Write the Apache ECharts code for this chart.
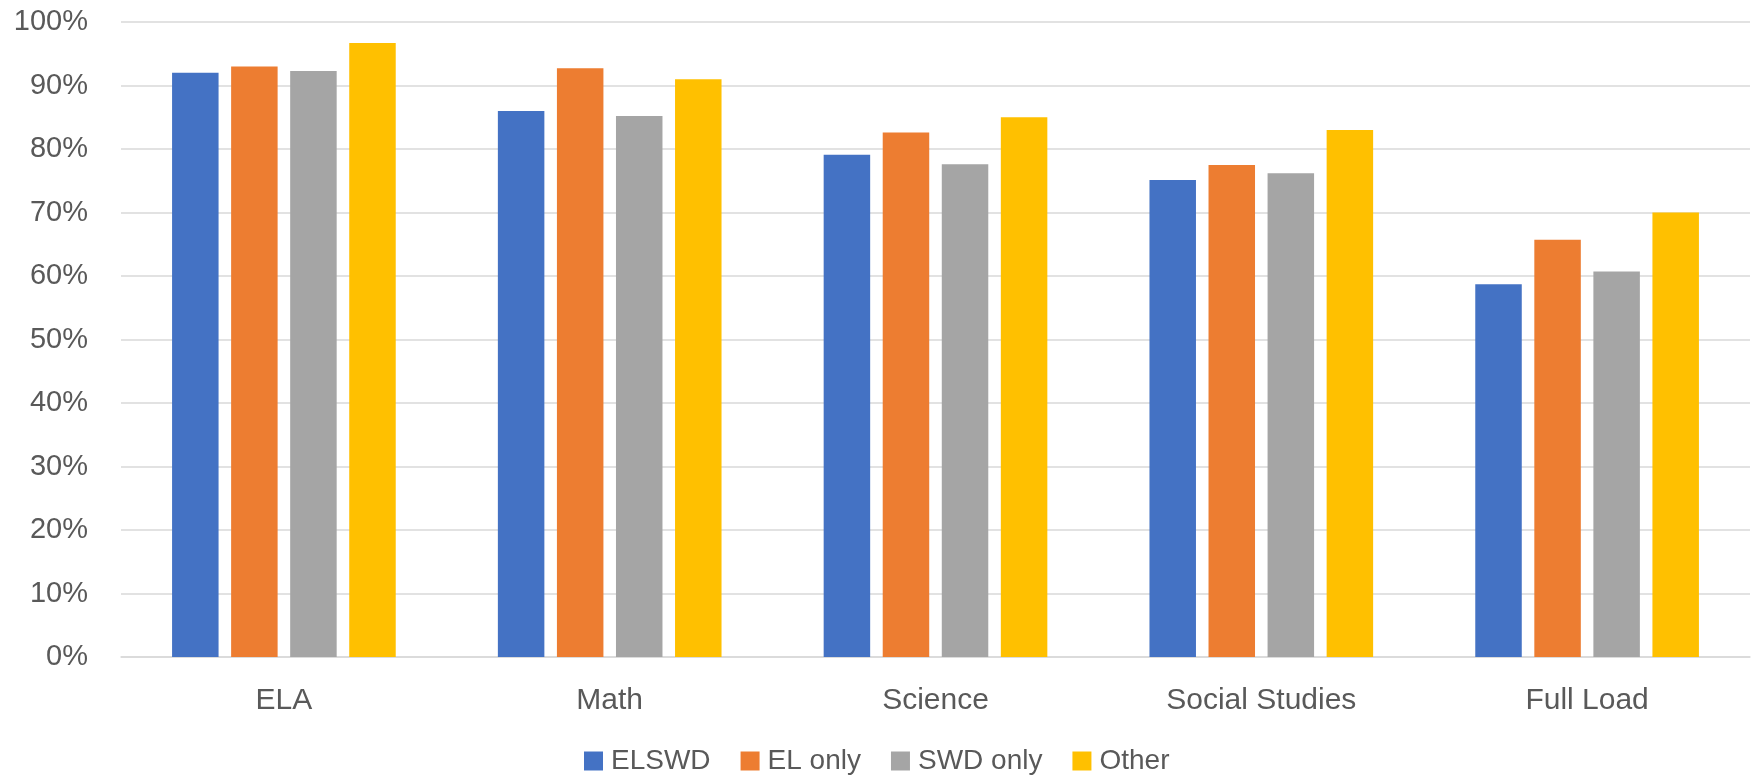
<!DOCTYPE html>
<html>
<head>
<meta charset="utf-8">
<title>Completion by student group</title>
<script src="https://cdn.jsdelivr.net/npm/echarts@6/dist/echarts.min.js"></script>
<style>
  html, body { margin: 0; padding: 0; background: #ffffff; }
  #chart { width: 1752px; height: 779px; }
</style>
</head>
<body>
<div id="chart"></div>
<script>
// Subject categories along the x axis
const categories = ['ELA', 'Math', 'Science', 'Social Studies', 'Full Load'];

// Percent values per student group
const elswd    = [92.0, 86.0, 79.1, 75.1, 58.7];
const elOnly   = [93.0, 92.7, 82.6, 77.5, 65.7];
const swdOnly  = [92.3, 85.2, 77.6, 76.2, 60.7];
const other    = [96.7, 91.0, 85.0, 83.0, 70.0];

const seriesNames = ['ELSWD', 'EL only', 'SWD only', 'Other'];
const seriesData = [elswd, elOnly, swdOnly, other];
const colors = ['#4472C4', '#ED7D31', '#A5A5A5', '#FFC000'];

const FONT = 'Liberation Sans';
const TEXT_COLOR = '#595959';
const GRID_COLOR = '#D9D9D9';

const chart = echarts.init(document.getElementById('chart'), null, { renderer: 'canvas' });

chart.setOption({
  animation: false,
  backgroundColor: '#ffffff',
  color: colors,
  grid: { left: 121, right: 2, top: 22, bottom: 122, containLabel: false },
  legend: {
    data: seriesNames,
    left: 584,
    top: 747,
    padding: 0,
    icon: 'rect',
    itemWidth: 19,
    itemHeight: 19,
    itemGap: 30,
    textStyle: { fontFamily: FONT, fontSize: 28, color: TEXT_COLOR, padding: [0, 0, 0, 3] }
  },
  xAxis: {
    type: 'category',
    data: categories,
    axisLine: { show: true, lineStyle: { color: GRID_COLOR, width: 1.5 } },
    axisTick: { show: false },
    axisLabel: { fontFamily: FONT, fontSize: 30, color: TEXT_COLOR, margin: 29 }
  },
  yAxis: {
    type: 'value',
    min: 0,
    max: 100,
    interval: 10,
    axisLine: { show: false },
    axisTick: { show: false },
    splitLine: { lineStyle: { color: GRID_COLOR, width: 1.5 } },
    axisLabel: { fontFamily: FONT, fontSize: 29, color: TEXT_COLOR, margin: 33, formatter: '{value}%' }
  },
  series: seriesNames.map((name, i) => ({
    name: name,
    type: 'bar',
    data: seriesData[i],
    barWidth: 46.5,
    barGap: '27%',
    itemStyle: { color: colors[i] }
  }))
});
</script>
</body>
</html>
